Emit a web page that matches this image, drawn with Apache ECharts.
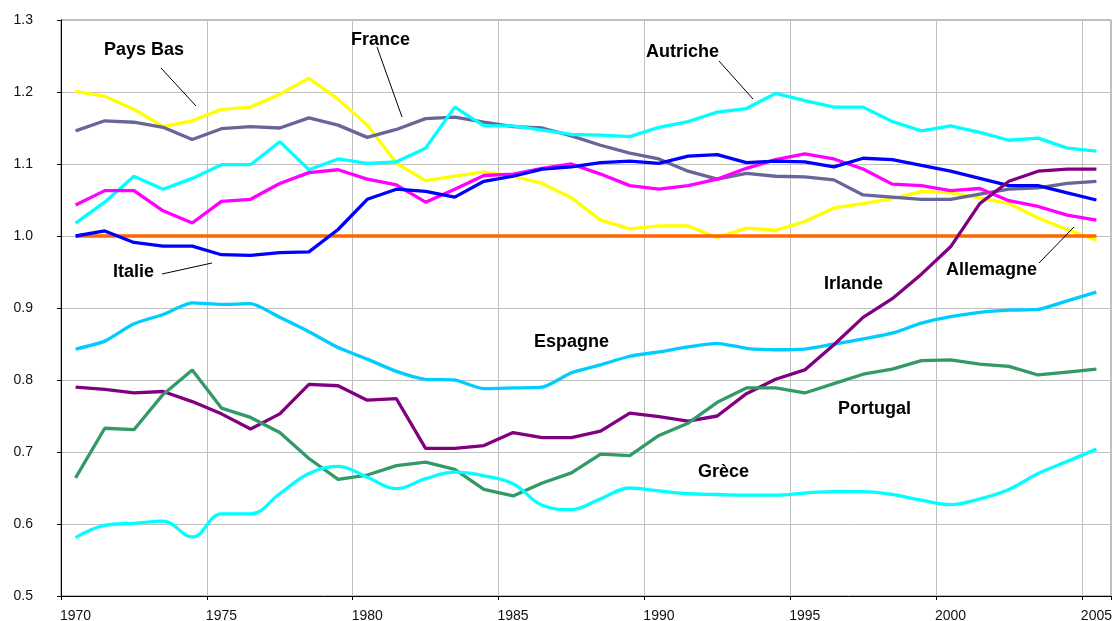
<!DOCTYPE html>
<html>
<head>
<meta charset="utf-8">
<title>PIB par habitant relatif</title>
<script src="https://cdn.jsdelivr.net/npm/echarts@6/dist/echarts.min.js"></script>
<style>
  html, body { margin: 0; padding: 0; background: #fff; }
  #main { width: 1112px; height: 621px; }
</style>
</head>
<body>
<div id="main"></div>
<script>
// categories (one per year)
var years = ['1970', '1971', '1972', '1973', '1974', '1975', '1976', '1977', '1978', '1979',
  '1980', '1981', '1982', '1983', '1984', '1985', '1986', '1987', '1988', '1989',
  '1990', '1991', '1992', '1993', '1994', '1995', '1996', '1997', '1998', '1999',
  '2000', '2001', '2002', '2003', '2004', '2005']

// valeurs
var paysBas = [1.201, 1.194, 1.176, 1.152, 1.160, 1.176, 1.179, 1.197, 1.219, 1.190,
  1.154, 1.101, 1.077, 1.083, 1.089, 1.083, 1.073, 1.053, 1.022, 1.010,
  1.014, 1.014, 0.998, 1.011, 1.008, 1.020, 1.039, 1.045, 1.052, 1.062,
  1.060, 1.053, 1.045, 1.025, 1.009, 0.994]
var france = [1.146, 1.160, 1.158, 1.151, 1.134, 1.149, 1.152, 1.150, 1.164, 1.154,
  1.137, 1.148, 1.163, 1.165, 1.158, 1.152, 1.150, 1.139, 1.126, 1.115,
  1.107, 1.090, 1.079, 1.087, 1.083, 1.082, 1.078, 1.057, 1.054, 1.051,
  1.051, 1.058, 1.065, 1.067, 1.073, 1.076]
var autriche = [1.018, 1.047, 1.083, 1.065, 1.080, 1.099, 1.099, 1.131, 1.092, 1.107,
  1.101, 1.103, 1.122, 1.179, 1.153, 1.153, 1.147, 1.141, 1.140, 1.138,
  1.151, 1.159, 1.172, 1.177, 1.198, 1.188, 1.179, 1.179, 1.159, 1.146,
  1.153, 1.144, 1.133, 1.136, 1.122, 1.118]
var allemagne = [1.043, 1.063, 1.063, 1.035, 1.018, 1.048, 1.051, 1.073, 1.088, 1.092,
  1.079, 1.071, 1.047, 1.065, 1.084, 1.086, 1.094, 1.100, 1.086, 1.070,
  1.065, 1.070, 1.079, 1.094, 1.106, 1.114, 1.107, 1.093, 1.072, 1.070,
  1.063, 1.066, 1.049, 1.041, 1.029, 1.022]
var reference = [1, 1, 1, 1, 1, 1, 1, 1, 1, 1, 1, 1, 1, 1, 1, 1, 1, 1,
  1, 1, 1, 1, 1, 1, 1, 1, 1, 1, 1, 1, 1, 1, 1, 1, 1, 1]
var italie = [1.000, 1.007, 0.991, 0.986, 0.986, 0.974, 0.973, 0.977, 0.978, 1.009,
  1.051, 1.065, 1.062, 1.054, 1.076, 1.083, 1.093, 1.096, 1.102, 1.104,
  1.101, 1.111, 1.113, 1.102, 1.104, 1.103, 1.096, 1.108, 1.106, 1.098,
  1.090, 1.080, 1.070, 1.070, 1.060, 1.050]
var espagne = [0.843, 0.854, 0.878, 0.891, 0.907, 0.905, 0.906, 0.887, 0.867, 0.845,
  0.829, 0.812, 0.801, 0.800, 0.788, 0.789, 0.790, 0.810, 0.821, 0.833,
  0.839, 0.846, 0.851, 0.844, 0.842, 0.843, 0.850, 0.857, 0.865, 0.879,
  0.888, 0.894, 0.897, 0.898, 0.910, 0.922]
var irlande = [0.790, 0.787, 0.782, 0.784, 0.770, 0.753, 0.732, 0.753, 0.794, 0.792,
  0.772, 0.774, 0.705, 0.705, 0.709, 0.727, 0.720, 0.720, 0.729, 0.754,
  0.749, 0.743, 0.750, 0.781, 0.801, 0.814, 0.849, 0.887, 0.913, 0.947,
  0.985, 1.045, 1.076, 1.090, 1.093, 1.093]
var portugal = [0.664, 0.733, 0.731, 0.780, 0.814, 0.761, 0.748, 0.727, 0.691, 0.662,
  0.668, 0.681, 0.686, 0.676, 0.648, 0.639, 0.657, 0.671, 0.697, 0.695,
  0.723, 0.740, 0.769, 0.789, 0.789, 0.782, 0.795, 0.808, 0.815, 0.827,
  0.828, 0.822, 0.819, 0.807, 0.811, 0.815]
var grece = [0.581, 0.598, 0.601, 0.604, 0.582, 0.614, 0.614, 0.642, 0.670, 0.680,
  0.665, 0.649, 0.663, 0.672, 0.667, 0.656, 0.626, 0.620, 0.635, 0.650,
  0.646, 0.642, 0.641, 0.640, 0.640, 0.643, 0.645, 0.645, 0.641, 0.633,
  0.627, 0.635, 0.648, 0.670, 0.687, 0.704]

var chart = echarts.init(document.getElementById('main'))

function serie(name, data, color, smooth) {
  return {
    name: name,
    type: 'line',
    data: data,
    symbol: 'none',
    smooth: smooth || false,
    lineStyle: { color: color, width: 3.3 },
    itemStyle: { color: color }
  }
}

// libelles des pays et traits de rappel
var font = 'bold 18px "Liberation Sans", Arial, sans-serif'
function label(text, x, y) {
  return {
    type: 'text', x: x, y: y, z: 100,
    style: { text: text, font: font, fill: '#000', textAlign: 'left', textVerticalAlign: 'middle' }
  }
}
function trait(x1, y1, x2, y2) {
  return {
    type: 'line', z: 100,
    shape: { x1: x1, y1: y1, x2: x2, y2: y2 },
    style: { stroke: '#000', lineWidth: 1 }
  }
}

var option = {
  animation: false,
  backgroundColor: '#fff',
  grid: {
    left: 61, right: 1, top: 20, bottom: 25,
    outerBoundsMode: 'none',
    show: true, borderColor: '#808080', borderWidth: 1
  },
  xAxis: {
    type: 'category',
    data: years,
    boundaryGap: true,
    axisLine: { lineStyle: { color: '#000', width: 1 } },
    axisTick: { show: true, interval: 4, length: 4, lineStyle: { color: '#000' } },
    axisLabel: { interval: 4, margin: 13, color: '#111', fontSize: 14, fontFamily: 'Liberation Sans, Arial' },
    splitLine: { show: true, interval: 4, lineStyle: { color: '#c0c0c0', width: 1 } }
  },
  yAxis: {
    type: 'value',
    min: 0.5, max: 1.3, interval: 0.1,
    axisLine: { show: true, lineStyle: { color: '#000', width: 1 } },
    axisTick: { show: true, length: 4, lineStyle: { color: '#000' } },
    axisLabel: {
      margin: 28, color: '#111', fontSize: 14, fontFamily: 'Liberation Sans, Arial',
      formatter: function (v) { return v.toFixed(1) }
    },
    splitLine: { show: true, lineStyle: { color: '#c0c0c0', width: 1 } }
  },
  series: [
    serie('Pays Bas', paysBas, '#FFFF00'),
    serie('France', france, '#666699'),
    serie('Autriche', autriche, '#00FFFF'),
    serie('Allemagne', allemagne, '#FF00FF'),
    serie('Moyenne', reference, '#FF6600'),
    serie('Italie', italie, '#0000FF'),
    serie('Espagne', espagne, '#00CCFF', 0.2),
    serie('Irlande', irlande, '#800080'),
    serie('Portugal', portugal, '#339966'),
    serie('Grèce', grece, '#00FFFF', 0.4)
  ],
  graphic: [
    label('Pays Bas', 104, 50), trait(161, 68, 196, 106),
    label('France', 351, 40), trait(377, 47, 402, 117),
    label('Autriche', 646, 52), trait(719, 61, 753, 99),
    label('Italie', 113, 272), trait(162, 274, 212, 263),
    label('Irlande', 824, 284),
    label('Allemagne', 946, 270), trait(1039, 263, 1074, 227),
    label('Espagne', 534, 342),
    label('Portugal', 838, 409),
    label('Grèce', 698, 472)
  ]
}

chart.setOption(option)
</script>
</body>
</html>
